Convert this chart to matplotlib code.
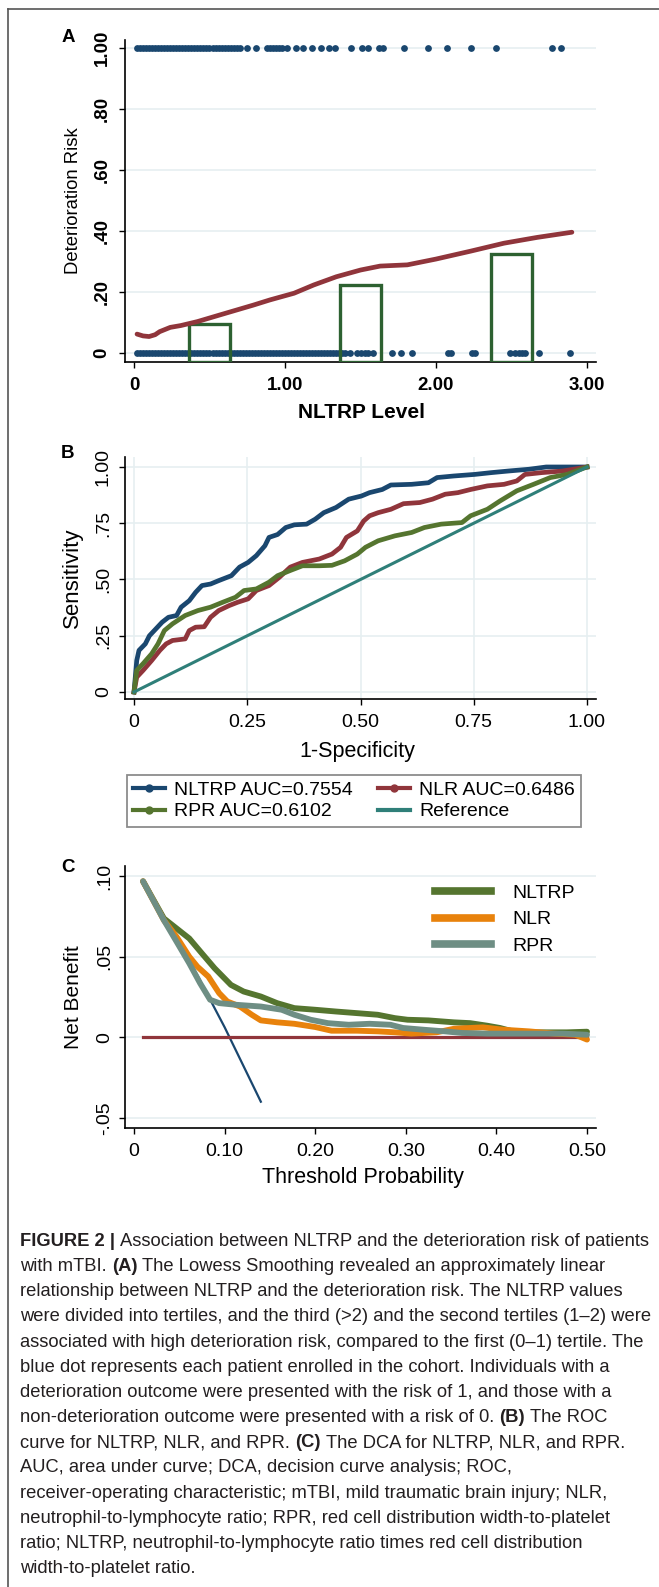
import matplotlib
matplotlib.use("Agg")
import matplotlib.pyplot as plt
from matplotlib.lines import Line2D

plt.rcParams['font.family'] = ['Liberation Sans', 'DejaVu Sans']

# ---------------- Panel A : lowess of deterioration risk ----------------
risk1_x = [0.02, 0.04, 0.06, 0.08, 0.10, 0.12, 0.14, 0.16, 0.18, 0.20, 0.22, 0.24,
           0.26, 0.28, 0.30, 0.32, 0.34, 0.36, 0.38, 0.40, 0.42, 0.44, 0.46, 0.48,
           0.50, 0.52, 0.54, 0.56, 0.58, 0.60, 0.62, 0.64, 0.66, 0.68, 0.70, 0.75,
           0.81, 0.88, 0.90, 0.92, 0.94, 0.96, 0.98, 1.01, 1.07, 1.12, 1.18, 1.24,
           1.29, 1.33, 1.44, 1.51, 1.55, 1.62, 1.65, 1.79, 1.95, 2.07, 2.23, 2.40,
           2.77, 2.83]
risk0_x = [0.02, 0.04, 0.06, 0.08, 0.10, 0.12, 0.14, 0.16, 0.18, 0.20, 0.22, 0.24,
           0.26, 0.28, 0.30, 0.32, 0.34, 0.36, 0.38, 0.40, 0.42, 0.44, 0.46, 0.48,
           0.50, 0.52, 0.54, 0.56, 0.58, 0.60, 0.62, 0.64, 0.66, 0.68, 0.70, 0.72,
           0.74, 0.76, 0.78, 0.80, 0.82, 0.84, 0.86, 0.88, 0.90, 0.92, 0.94, 0.96,
           0.98, 1.00, 1.02, 1.04, 1.06, 1.08, 1.10, 1.12, 1.14, 1.16, 1.18, 1.20,
           1.22, 1.24, 1.26, 1.28, 1.30, 1.32, 1.34, 1.36, 1.38, 1.40, 1.43, 1.48,
           1.50, 1.53, 1.55, 1.58, 1.71, 1.77, 1.84, 2.08, 2.10, 2.24, 2.26, 2.49,
           2.52, 2.55, 2.57, 2.59, 2.68, 2.89]
lowess_x = [0.02, 0.06, 0.10, 0.14, 0.17, 0.24, 0.31, 0.42, 0.57, 0.68, 0.79, 0.90,
            1.06, 1.19, 1.34, 1.50, 1.63, 1.81, 2.00, 2.23, 2.45, 2.67, 2.90]
lowess_y = [0.062, 0.056, 0.054, 0.060, 0.070, 0.084, 0.090, 0.103, 0.125, 0.141,
            0.157, 0.174, 0.196, 0.223, 0.250, 0.272, 0.285, 0.289, 0.308, 0.334,
            0.360, 0.379, 0.396]
tertile_mid = [0.5, 1.5, 2.5]
tertile_risk = [0.095, 0.223, 0.325]
tertile_width = 0.27

# ---------------- Panel B : ROC ----------------
nltrp_fpr = [0, 0.006, 0.011, 0.025, 0.034, 0.048, 0.062, 0.076, 0.094, 0.104, 0.122,
             0.136, 0.150, 0.169, 0.187, 0.215, 0.233, 0.252, 0.270, 0.289, 0.298, 0.317,
             0.335, 0.354, 0.381, 0.400, 0.419, 0.446, 0.474, 0.502, 0.520, 0.548, 0.567,
             0.613, 0.650, 0.669, 0.706, 0.752, 0.789, 0.826, 0.872, 0.910, 1.0]
nltrp_tpr = [0, 0.140, 0.185, 0.214, 0.250, 0.280, 0.310, 0.332, 0.340, 0.377, 0.406,
             0.443, 0.473, 0.480, 0.495, 0.517, 0.555, 0.576, 0.606, 0.650, 0.687, 0.700,
             0.731, 0.743, 0.746, 0.768, 0.797, 0.820, 0.857, 0.871, 0.886, 0.900, 0.920,
             0.923, 0.930, 0.953, 0.960, 0.967, 0.975, 0.982, 0.990, 1.0, 1.0]
nlr_fpr = [0, 0.006, 0.020, 0.039, 0.057, 0.071, 0.085, 0.113, 0.122, 0.136, 0.155,
           0.169, 0.187, 0.210, 0.229, 0.252, 0.270, 0.298, 0.321, 0.345, 0.372, 0.409,
           0.437, 0.456, 0.469, 0.493, 0.507, 0.520, 0.539, 0.567, 0.595, 0.631, 0.659,
           0.687, 0.715, 0.743, 0.780, 0.817, 0.845, 0.863, 0.900, 0.946, 1.0]
nlr_tpr = [0, 0.066, 0.096, 0.140, 0.185, 0.214, 0.229, 0.236, 0.273, 0.288, 0.290,
           0.332, 0.362, 0.384, 0.399, 0.414, 0.451, 0.473, 0.510, 0.555, 0.576, 0.591,
           0.613, 0.643, 0.687, 0.716, 0.760, 0.783, 0.797, 0.812, 0.837, 0.842, 0.857,
           0.879, 0.886, 0.900, 0.916, 0.923, 0.938, 0.967, 0.975, 0.982, 1.0]
rpr_fpr = [0, 0.006, 0.020, 0.039, 0.053, 0.067, 0.085, 0.113, 0.141, 0.169, 0.196,
           0.224, 0.243, 0.270, 0.298, 0.317, 0.345, 0.372, 0.409, 0.437, 0.465, 0.493,
           0.511, 0.539, 0.576, 0.613, 0.641, 0.678, 0.724, 0.743, 0.780, 0.808, 0.845,
           0.882, 0.919, 0.956, 1.0]
rpr_tpr = [0, 0.096, 0.126, 0.170, 0.214, 0.273, 0.303, 0.340, 0.362, 0.377, 0.399,
           0.421, 0.451, 0.458, 0.488, 0.517, 0.540, 0.561, 0.561, 0.563, 0.583, 0.613,
           0.643, 0.672, 0.694, 0.709, 0.731, 0.746, 0.753, 0.783, 0.812, 0.849, 0.894,
           0.923, 0.953, 0.967, 1.0]
ref_xy = [0, 1]
roc_labels = ['NLTRP AUC=0.7554', 'NLR AUC=0.6486', 'RPR AUC=0.6102', 'Reference']

# ---------------- Panel C : decision curves ----------------
all_pt = [0.01, 0.04, 0.07, 0.10, 0.14]
all_nb = [0.0967, 0.0684, 0.0384, 0.0063, -0.0399]
none_pt = [0.01, 0.50]
none_nb = [0, 0]
nltrp_pt = [0.010, 0.033, 0.047, 0.061, 0.075, 0.089, 0.107, 0.121, 0.140, 0.158, 0.177,
            0.200, 0.223, 0.246, 0.269, 0.288, 0.302, 0.325, 0.353, 0.371, 0.390, 0.404,
            0.418, 0.436, 0.455, 0.478, 0.500]
nltrp_nb = [0.0967, 0.0737, 0.0675, 0.0613, 0.0520, 0.0428, 0.0325, 0.0284, 0.0253,
            0.0212, 0.0181, 0.0171, 0.0160, 0.0150, 0.0140, 0.0119, 0.0109, 0.0105,
            0.0093, 0.0088, 0.0072, 0.0058, 0.0037, 0.0031, 0.0031, 0.0031, 0.0035]
nlr_pt = [0.010, 0.033, 0.047, 0.061, 0.070, 0.082, 0.094, 0.103, 0.117, 0.130, 0.140,
          0.158, 0.177, 0.200, 0.218, 0.246, 0.269, 0.288, 0.306, 0.334, 0.353, 0.385,
          0.408, 0.436, 0.464, 0.487, 0.500]
nlr_nb = [0.0967, 0.0726, 0.0623, 0.0500, 0.0438, 0.0377, 0.0274, 0.0222, 0.0191, 0.0140,
          0.0105, 0.0093, 0.0084, 0.0064, 0.0041, 0.0041, 0.0037, 0.0031, 0.0023, 0.0031,
          0.0053, 0.0062, 0.0047, 0.0037, 0.0023, 0.0016, -0.0014]
rpr_pt = [0.010, 0.033, 0.047, 0.061, 0.073, 0.084, 0.094, 0.112, 0.140, 0.163, 0.177,
          0.195, 0.214, 0.237, 0.260, 0.283, 0.297, 0.320, 0.343, 0.362, 0.390, 0.418,
          0.445, 0.473, 0.500]
rpr_nb = [0.0967, 0.0726, 0.0593, 0.0459, 0.0335, 0.0233, 0.0212, 0.0202, 0.0191, 0.0171,
          0.0140, 0.0109, 0.0088, 0.0078, 0.0084, 0.0078, 0.0058, 0.0047, 0.0037, 0.0027,
          0.0023, 0.0023, 0.0023, 0.0023, 0.0016]
dca_labels = ['NLTRP', 'NLR', 'RPR']

caption = [
    "**FIGURE 2 |** Association between NLTRP and the deterioration risk of patients",
    "with mTBI. **(A)** The Lowess Smoothing revealed an approximately linear",
    "relationship between NLTRP and the deterioration risk. The NLTRP values",
    "were divided into tertiles, and the third (>2) and the second tertiles (1\u20132) were",
    "associated with high deterioration risk, compared to the first (0\u20131) tertile. The",
    "blue dot represents each patient enrolled in the cohort. Individuals with a",
    "deterioration outcome were presented with the risk of 1, and those with a",
    "non-deterioration outcome were presented with a risk of 0. **(B)** The ROC",
    "curve for NLTRP, NLR, and RPR. **(C)** The DCA for NLTRP, NLR, and RPR.",
    "AUC, area under curve; DCA, decision curve analysis; ROC,",
    "receiver-operating characteristic; mTBI, mild traumatic brain injury; NLR,",
    "neutrophil-to-lymphocyte ratio; RPR, red cell distribution width-to-platelet",
    "ratio; NLTRP, neutrophil-to-lymphocyte ratio times red cell distribution",
    "width-to-platelet ratio.",
]

# colours (Stata s2color look)
navy = '#1a476f'
maroon = '#90353b'
fgreen = '#55752f'
dkorange = '#e8820c'
teal = '#6e8e84'
refteal = '#2f7f79'
bargreen = '#2d6131'
gridc = '#e6eff1'

W, H = 659, 1587
fig = plt.figure(figsize=(W / 100, H / 100), dpi=100)


def add_ax(left, top, right, bottom):
    return fig.add_axes([left / W, 1 - bottom / H, (right - left) / W, (bottom - top) / H])


def style(ax):
    for s in ['top', 'right']:
        ax.spines[s].set_visible(False)
    for s in ['left', 'bottom']:
        ax.spines[s].set_linewidth(1.2)
    ax.tick_params(direction='out', length=4.5, width=1.0, color='black')
    ax.set_axisbelow(True)


# ---- A ----
axA = add_ax(125, 40, 596, 362)
style(axA)
axA.scatter(risk1_x, [1] * len(risk1_x), s=24, color=navy, zorder=2, linewidths=0)
axA.scatter(risk0_x, [0] * len(risk0_x), s=24, color=navy, zorder=2, linewidths=0)
ylowA = -0.0295
axA.bar(tertile_mid, [h - ylowA for h in tertile_risk], width=tertile_width, bottom=ylowA,
        fill=False, edgecolor=bargreen, linewidth=2.4, zorder=3)
axA.plot(lowess_x, lowess_y, color=maroon, lw=3.4, solid_capstyle='round', zorder=4)
axA.set_xlim(-0.0596, 3.0596)
axA.set_ylim(ylowA, 1.0262)
axA.set_xticks([0, 1, 2, 3])
axA.set_xticklabels(['0', '1.00', '2.00', '3.00'], fontsize=13.5, fontweight='bold')
axA.set_yticks([0, 0.2, 0.4, 0.6, 0.8, 1.0])
axA.set_yticklabels(['0', '.20', '.40', '.60', '.80', '1.00'], fontsize=13.5,
                    fontweight='bold', rotation=90, va='center')
axA.tick_params(axis='x', pad=6)
axA.tick_params(axis='y', pad=6)
axA.grid(axis='y', color=gridc, lw=1.2)
axA.set_xlabel('NLTRP Level', fontsize=15, fontweight='bold', va='center')
axA.xaxis.set_label_coords(0.503, (362 - 412) / 322)
axA.set_ylabel('Deterioration Risk', fontsize=13.3, va='center')
axA.yaxis.set_label_coords((73 - 125) / 471, 0.5)

# ---- B ----
axB = add_ax(125, 457, 596, 699)
style(axB)
axB.plot(nltrp_fpr, nltrp_tpr, color=navy, lw=3.4, zorder=3)
axB.plot(nlr_fpr, nlr_tpr, color=maroon, lw=3.4, zorder=3)
axB.plot(rpr_fpr, rpr_tpr, color=fgreen, lw=3.4, zorder=3)
axB.plot(ref_xy, ref_xy, color=refteal, lw=2.2, zorder=4)
axB.set_xlim(-0.0199, 1.0199)
axB.set_ylim(-0.0311, 1.0444)
axB.set_xticks([0, 0.25, 0.5, 0.75, 1.0])
axB.set_xticklabels(['0', '0.25', '0.50', '0.75', '1.00'], fontsize=14)
axB.set_yticks([0, 0.25, 0.5, 0.75, 1.0])
axB.set_yticklabels(['0', '.25', '.50', '.75', '1.00'], fontsize=14, rotation=90, va='center')
axB.tick_params(axis='x', pad=6)
axB.tick_params(axis='y', pad=5)
axB.grid(color=gridc, lw=1.2)
axB.set_xlabel('1-Specificity', fontsize=15.5, va='center')
axB.xaxis.set_label_coords(0.493, (699 - 752) / 242)
axB.set_ylabel('Sensitivity', fontsize=16, va='center')
axB.yaxis.set_label_coords((72 - 125) / 471, 0.5)

h_nltrp = Line2D([], [], color=navy, lw=3, marker='o', markersize=5)
h_nlr = Line2D([], [], color=maroon, lw=3, marker='o', markersize=5)
h_rpr = Line2D([], [], color=fgreen, lw=3, marker='o', markersize=5)
h_ref = Line2D([], [], color=refteal, lw=3)
# legend fills column-wise, so order gives rows NLTRP|NLR and RPR|Reference
legB = fig.legend([h_nltrp, h_rpr, h_nlr, h_ref],
                  [roc_labels[0], roc_labels[2], roc_labels[1], roc_labels[3]],
                  ncol=2, loc='upper left', bbox_to_anchor=(127 / W, 1 - 775 / H),
                  fontsize=14, handlelength=1.65, handletextpad=0.45, columnspacing=1.3,
                  labelspacing=0.2, borderpad=0.32, borderaxespad=0,
                  fancybox=False, framealpha=1)
legB.get_frame().set_edgecolor('#8c8c8c')
legB.get_frame().set_linewidth(1.3)

# ---- C ----
axC = add_ax(125, 866, 596, 1128)
style(axC)
axC.plot(all_pt, all_nb, color=navy, lw=1.6, zorder=2)
axC.plot(none_pt, none_nb, color=maroon, lw=2.3, zorder=2)
axC.plot(nltrp_pt, nltrp_nb, color=fgreen, lw=4.2, solid_capstyle='round', zorder=3)
axC.plot(nlr_pt, nlr_nb, color=dkorange, lw=4.2, solid_capstyle='round', zorder=3)
axC.plot(rpr_pt, rpr_nb, color=teal, lw=4.2, solid_capstyle='round', zorder=3)
axC.set_xlim(-0.00993, 0.50993)
axC.set_ylim(-0.0562, 0.1062)
axC.set_xticks([0, 0.1, 0.2, 0.3, 0.4, 0.5])
axC.set_xticklabels(['0', '0.10', '0.20', '0.30', '0.40', '0.50'], fontsize=14)
axC.set_yticks([-0.05, 0, 0.05, 0.10])
axC.set_yticklabels(['-.05', '0', '.05', '.10'], fontsize=14, rotation=90, va='center')
axC.tick_params(axis='x', pad=6)
axC.tick_params(axis='y', pad=4)
axC.grid(axis='y', color=gridc, lw=1.2)
axC.set_xlabel('Threshold Probability', fontsize=15.5, va='center')
axC.xaxis.set_label_coords(0.505, (1128 - 1178) / 262)
axC.set_ylabel('Net Benefit', fontsize=15, va='center')
axC.yaxis.set_label_coords((73 - 125) / 471, 0.5)
dca_handles = [Line2D([], [], color=c, lw=5.5) for c in (fgreen, dkorange, teal)]
axC.legend(dca_handles, dca_labels, loc='upper left', bbox_to_anchor=(0.658, 0.93),
           frameon=False, fontsize=14, handlelength=2.9, handletextpad=1.1,
           labelspacing=0.45, borderpad=0, borderaxespad=0)

# panel letters
for letter, yy in (('A', 38), ('B', 453), ('C', 868)):
    fig.text(68 / W, 1 - yy / H, letter, fontsize=13.5, fontweight='bold',
             ha='center', va='center')

# frame lines (top and left)
fig.add_artist(Line2D([8 / W, 8 / W], [0, 1 - 9 / H], transform=fig.transFigure,
                      color='#555555', lw=1.2))
fig.add_artist(Line2D([8 / W, 1], [1 - 9 / H, 1 - 9 / H], transform=fig.transFigure,
                      color='#555555', lw=1.2))

# caption with bold pieces
renderer = fig.canvas.get_renderer()
cap_size = 13.2
cap_color = '#231f20'


def text_w(s, weight):
    t = fig.text(0, 0, s, fontsize=cap_size, fontweight=weight)
    w = t.get_window_extent(renderer).width
    t.remove()
    return w


space_w = text_w('n n', 'normal') - text_w('nn', 'normal')
for i, line in enumerate(caption):
    base = 1246 + 25.15 * i
    x = 20.0
    for j, part in enumerate(line.split('**')):
        if not part:
            continue
        weight = 'bold' if j % 2 == 1 else 'normal'
        if part.startswith(' '):
            x += space_w
        core = part.strip()
        t = fig.text(x / W, 1 - base / H, core, fontsize=cap_size, fontweight=weight,
                     color=cap_color, ha='left', va='baseline')
        x += t.get_window_extent(renderer).width
        if part.endswith(' '):
            x += space_w

fig.savefig('out.png', dpi=100)
